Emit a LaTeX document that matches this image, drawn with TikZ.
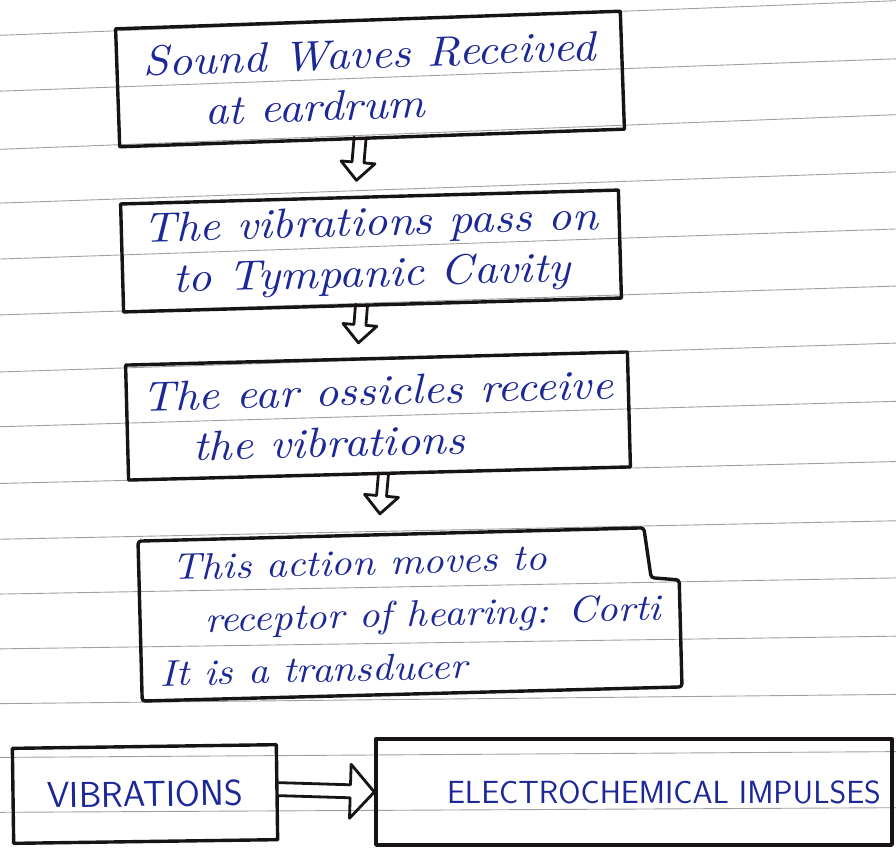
\documentclass[tikz,border=0pt]{standalone}
\usepackage{fontspec}
\usetikzlibrary{calc}
\newfontfamily\handfam[FakeStretch=1.1]{lmroman10-italic.otf}
\definecolor{ink}{RGB}{28,40,150}
\definecolor{pen}{RGB}{24,20,20}
\definecolor{ruleline}{RGB}{160,160,160}
\newcommand\handtxt{\fontsize{42}{51}\selectfont\handfam}
\newcommand\handtxtb{\fontsize{37}{53}\selectfont\handfam}
\newcommand\capstxt{\fontsize{32}{36}\selectfont\sffamily}
\newcommand\capstxtb{\fontsize{36}{40}\selectfont\sffamily}
\tikzset{
  paperline/.style={draw=ruleline, line width=0.9pt},
  penline/.style={draw=pen, line width=3.4pt, line join=round, line cap=round},
  arrowline/.style={draw=pen, line width=2.8pt, line join=round, line cap=round},
  box/.style 2 args={penline, minimum width=#1, minimum height=#2, inner sep=0pt,
    text=ink, align=center},
  hollowarrow/.style n args={3}{arrowline, to path={
    ($(\tikztostart)!#1!90:(\tikztotarget)$) --
    ($(\tikztotarget)!#3!(\tikztostart)!#1!90:(\tikztotarget)$) --
    ($(\tikztotarget)!#3!(\tikztostart)!#2!90:(\tikztotarget)$) --
    (\tikztotarget) --
    ($(\tikztotarget)!#3!(\tikztostart)!#2!-90:(\tikztotarget)$) --
    ($(\tikztotarget)!#3!(\tikztostart)!#1!-90:(\tikztotarget)$) --
    ($(\tikztostart)!#1!-90:(\tikztotarget)$)
  }}
}
\begin{document}
\begin{tikzpicture}[x=1pt,y=-1pt]
  \useasboundingbox (0,0) rectangle (896,847);
  \fill[white] (0,0) rectangle (896,847);
  % ruled paper
  \foreach \l/\r in {33/3, 89/61, 147/117, 201/174, 257/231, 313/288, 370/345,
                     425/403, 482/463, 538/522, 593/579, 648/637, 703/695,
                     757/752, 812/808}
    \draw[paperline] ($(60,\l)!-0.078!(836,\r)$) -- ($(836,\r)!-0.078!(60,\l)$);

  % boxes
  \node[box={505pt}{118pt}, rotate=2, font=\handtxt, align=left] (b1) at (370,79)
    {Sound Waves Received\\\hspace*{60pt}at eardrum};
  \node[box={498pt}{108pt}, rotate=1.6, font=\handtxt] (b2) at (371,251)
    {The vibrations pass on\\to Tympanic Cavity};
  \node[box={502pt}{115pt}, rotate=1.5, font=\handtxt, align=left] (b3) at (378,416)
    {The ear ossicles receive\\\hspace*{50pt}the vibrations};
  \node[minimum width=540pt, minimum height=160pt, inner sep=0pt, rotate=1.5,
        text=ink, font=\handtxtb, align=left] (b4) at (410,614)
    {\hspace*{15pt}This action moves to\\\hspace*{46pt}receptor of hearing: Corti\\It is a transducer};
  \begin{scope}[shift={(b4.center)}, rotate=1.5]
    \draw[penline, rounded corners=3pt] (-270,-80) -- (236,-80) -- (242,-30)
      -- (270,-27) -- (270,80) -- (-270,80) -- cycle;
  \end{scope}
  \node[box={264pt}{95pt}, rotate=0.8, font=\capstxtb] (b5) at (145,794) {VIBRATIONS};
  \node[box={516pt}{106pt}, font=\capstxt] (b6) at (634,792)
    {\hspace*{60pt}ELECTROCHEMICAL IMPULSES};

  % connectors
  \draw[hollowarrow={6pt}{17pt}{18pt}] ($(b1.south)+(-12,-2)$) to ($(b2.north)+(-13,-15)$);
  \draw[hollowarrow={6pt}{17pt}{18pt}] ($(b2.south)+(-11,-2)$) to ($(b3.north)+(-18,-14)$);
  \draw[hollowarrow={5pt}{17pt}{18pt}] ($(b3.south)+(4,-2)$) to ($(b4.north)+(-28,-20)$);
  \draw[hollowarrow={6.5pt}{27pt}{24pt}] ($(b5.east)+(0,-3)$) to (b6.west);
\end{tikzpicture}
\end{document}
